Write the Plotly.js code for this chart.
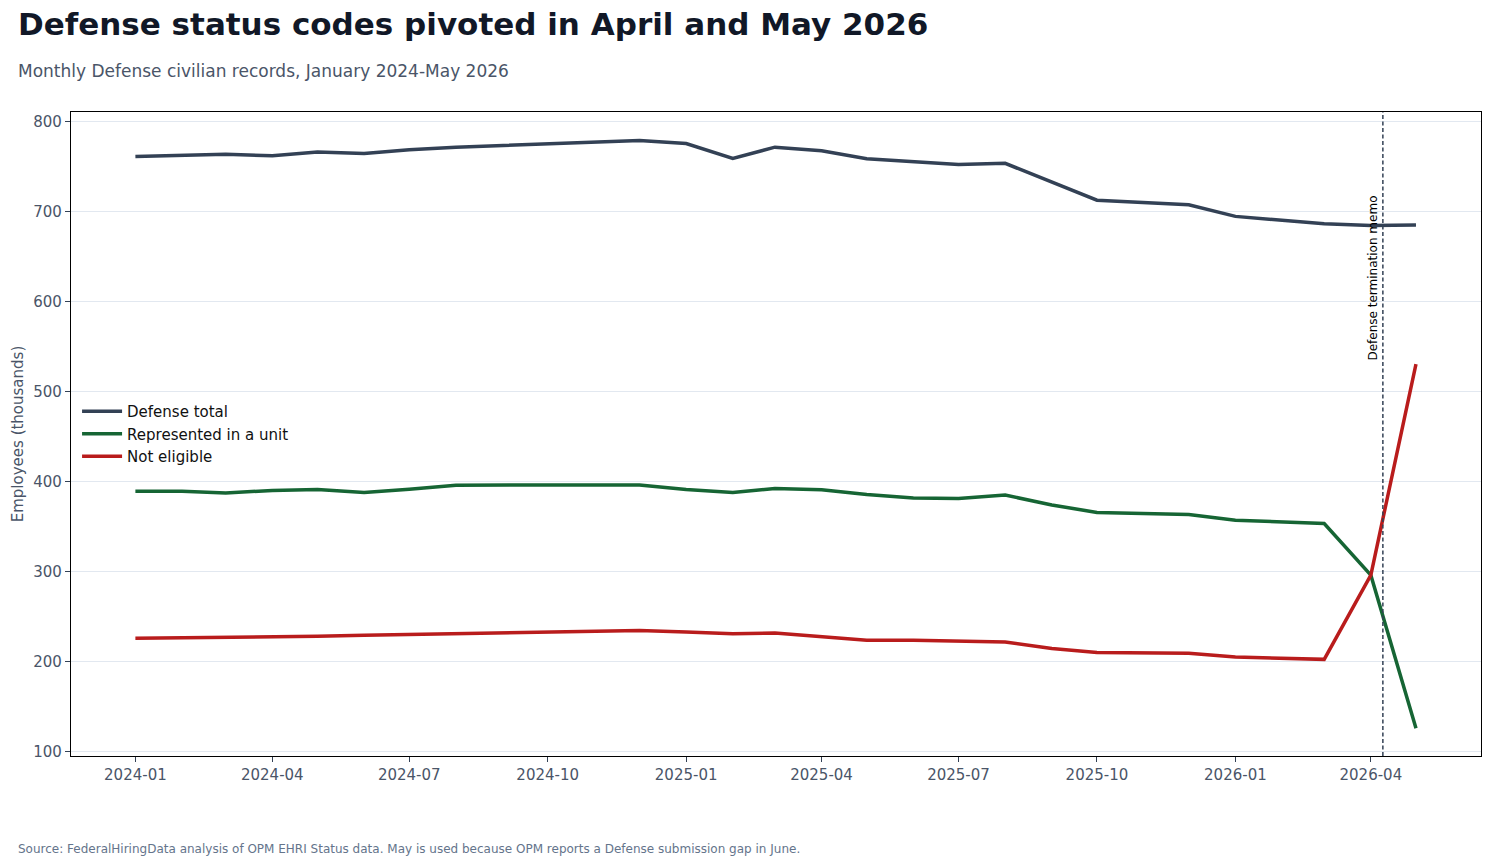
<!DOCTYPE html>
<html>
<head>
<meta charset="utf-8">
<script src="https://cdn.plot.ly/plotly-3.0.1.min.js"></script>
<style>
  html, body { margin: 0; padding: 0; background: #ffffff; }
  #chart { width: 1491px; height: 866px; }
</style>
</head>
<body>
<div id="chart"></div>
<script>
// Monthly observation dates (months without a visible data point are not listed)
const months = [
  "2024-01-01", "2024-02-01", "2024-03-01", "2024-04-01", "2024-05-01", "2024-06-01",
  "2024-07-01", "2024-08-01", "2024-12-01",
  "2025-01-01", "2025-02-01", "2025-03-01", "2025-04-01", "2025-05-01", "2025-06-01",
  "2025-07-01", "2025-08-01", "2025-09-01", "2025-10-01", "2025-12-01",
  "2026-01-01", "2026-03-01", "2026-04-01", "2026-05-01"
];

// Employees (thousands)
const defenseTotal = [
  761.7, 763.0, 764.0, 762.5, 766.6, 765.0,
  769.0, 772.0, 779.5,
  776.0, 759.5, 772.0, 768.0, 759.0, 756.0,
  752.8, 754.0, 733.0, 713.0, 708.0,
  695.0, 686.7, 684.9, 685.3
];
const representedInUnit = [
  389.4, 389.4, 387.2, 390.2, 391.3, 387.8,
  391.6, 396.0, 396.3,
  391.3, 388.0, 392.4, 391.0, 385.6, 381.8,
  381.3, 385.0, 374.0, 365.7, 363.5,
  357.1, 353.4, 295.9, 125.8
];
const notEligible = [
  225.7, 226.3, 226.3, 226.8, 227.9, 229.0,
  230.0, 230.5, 234.3,
  232.8, 230.9, 231.6, 227.4, 223.5, 223.5,
  222.8, 221.6, 214.3, 209.8, 209.0,
  204.9, 202.3, 296.0, 530.8
];

const seriesNames = ["Defense total", "Represented in a unit", "Not eligible"];
const seriesColors = ["#334155", "#166534", "#b91c1c"];

const memoDate = "2026-04-09";
const memoLabel = "Defense termination memo";

const titleText = "Defense status codes pivoted in April and May 2026";
const subtitleText = "Monthly Defense civilian records, January 2024-May 2026";
const sourceText = "Source: FederalHiringData analysis of OPM EHRI Status data. May is used because OPM reports a Defense submission gap in June.";
const yTitle = "Employees (thousands)";

const FONT = "DejaVu Sans, Verdana, sans-serif";

const traces = [defenseTotal, representedInUnit, notEligible].map((vals, i) => ({
  type: "scatter",
  mode: "lines",
  x: months,
  y: vals,
  name: seriesNames[i],
  line: { color: seriesColors[i], width: 3.5 },
  hoverinfo: "x+y+name"
}));

const layout = {
  width: 1491,
  height: 866,
  paper_bgcolor: "#ffffff",
  plot_bgcolor: "#ffffff",
  font: { family: FONT, size: 15, color: "#4a5568" },
  margin: { l: 71, r: 10, t: 112, b: 110, pad: 0 },
  showlegend: true,
  legend: {
    x: 0.0043, xanchor: "left",
    y: 0.5, yanchor: "middle",
    bgcolor: "rgba(255,255,255,0)",
    font: { family: FONT, size: 15, color: "#111111" },
    tracegroupgap: 0,
    itemwidth: 40
  },
  xaxis: {
    type: "date",
    range: ["2023-11-19 05:00", "2026-06-13 05:00"],
    tick0: "2024-01-01",
    dtick: "M3",
    tickformat: "%Y-%m",
    ticks: "outside",
    ticklen: 5,
    tickcolor: "#334155",
    tickfont: { family: FONT, size: 15, color: "#4a5568" },
    showgrid: false,
    zeroline: false,
    showline: true,
    linecolor: "#000000",
    linewidth: 1.2,
    mirror: true
  },
  yaxis: {
    range: [94.8, 811.1],
    tick0: 100,
    dtick: 100,
    ticks: "outside",
    ticklen: 5,
    tickcolor: "#334155",
    tickfont: { family: FONT, size: 15, color: "#4a5568" },
    showgrid: true,
    gridcolor: "#e2e8f0",
    gridwidth: 1,
    zeroline: false,
    showline: true,
    linecolor: "#000000",
    linewidth: 1.2,
    mirror: true,
    title: { text: yTitle, font: { family: FONT, size: 15, color: "#4a5568" }, standoff: 6 }
  },
  shapes: [{
    type: "line",
    xref: "x", yref: "paper",
    x0: memoDate, x1: memoDate,
    y0: 0, y1: 1,
    line: { color: "#334155", width: 1.5, dash: "4px,2.5px" }
  }],
  annotations: [
    {
      text: "<b>" + titleText + "</b>",
      xref: "paper", yref: "paper",
      x: -0.039, y: 1.1366,
      xanchor: "left", yanchor: "middle",
      showarrow: false,
      font: { family: FONT, size: 31, color: "#111827" }
    },
    {
      text: subtitleText,
      xref: "paper", yref: "paper",
      x: -0.039, y: 1.0637,
      xanchor: "left", yanchor: "middle",
      showarrow: false,
      font: { family: FONT, size: 17, color: "#4a5568" }
    },
    {
      text: sourceText,
      xref: "paper", yref: "paper",
      x: -0.039, y: -0.1444,
      xanchor: "left", yanchor: "middle",
      showarrow: false,
      font: { family: FONT, size: 12, color: "#64748b" }
    },
    {
      text: memoLabel,
      xref: "x", yref: "paper",
      x: memoDate, y: 0.874,
      xanchor: "right", yanchor: "top",
      xshift: -1,
      textangle: -90,
      showarrow: false,
      font: { family: FONT, size: 12, color: "#000000" }
    }
  ]
};

Plotly.newPlot("chart", traces, layout, { displayModeBar: false, responsive: false });
</script>
</body>
</html>
